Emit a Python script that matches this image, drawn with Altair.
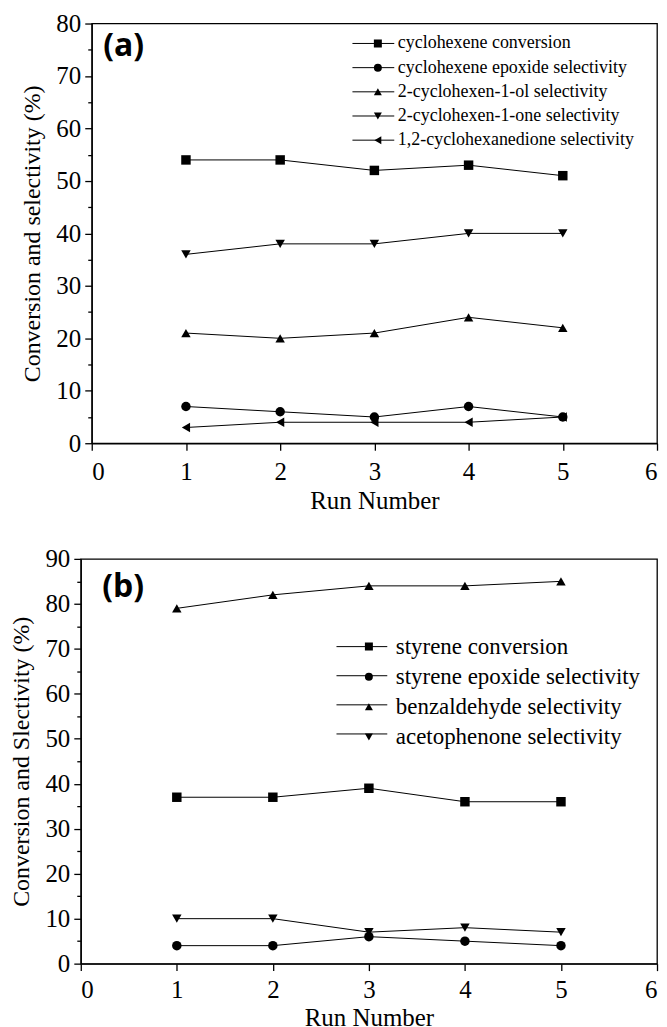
import altair as alt
import pandas as pd

runs = [1, 2, 3, 4, 5]

a_names = ["cyclohexene conversion", "cyclohexene epoxide selectivity",
           "2-cyclohexen-1-ol selectivity", "2-cyclohexen-1-one selectivity",
           "1,2-cyclohexanedione selectivity"]
a_conv = [54, 54, 52, 53, 51]
a_epox = [7, 6, 5, 7, 5]
a_ol = [21, 20, 21, 24, 22]
a_one = [36, 38, 38, 40, 40]
a_dione = [3, 4, 4, 4, 5]
a_shapes = ["square", "circle", "triangle-up", "triangle-down", "triangle-left"]

b_names = ["styrene conversion", "styrene epoxide selectivity",
           "benzaldehyde selectivity", "acetophenone selectivity"]
b_conv = [37, 37, 39, 36, 36]
b_epox = [4, 4, 6, 5, 4]
b_benz = [79, 82, 84, 84, 85]
b_aceto = [10, 10, 7, 8, 7]
b_shapes = ["square", "circle", "triangle-up", "triangle-down"]

x_ticks = [0, 1, 2, 3, 4, 5, 6]

SERIF = "Liberation Serif"


def long_df(names, series):
    rows = []
    for name, vals in zip(names, series):
        for r, v in zip(runs, vals):
            rows.append({"run": r, "value": v, "series": name, "series2": name})
    return pd.DataFrame(rows)


def panel(df, names, shapes, ymax, ytitle, tag, w, h, leg):
    n = len(names)
    xenc = alt.X("run:Q", scale=alt.Scale(domain=[0, 6], nice=False, zero=False),
                 axis=alt.Axis(values=x_ticks, format="d", title="Run Number",
                               tickSize=7, labelPadding=leg["xlp"], titlePadding=leg["xtp"],
                               titleFontSize=25))
    yenc = alt.Y("value:Q", scale=alt.Scale(domain=[0, ymax], nice=False),
                 axis=alt.Axis(values=list(range(0, ymax + 1, 5)),
                               labelExpr="datum.value % 10 == 0 ? datum.label : ''",
                               tickSize={"condition": {"test": "datum.value % 10 == 0", "value": 7}, "value": 4},
                               labelPadding=4, titlePadding=11, title=ytitle))
    lines = alt.Chart(df).mark_line(strokeWidth=1).encode(
        x=xenc, y=yenc,
        color=alt.Color("series:N", sort=names,
                        scale=alt.Scale(domain=names, range=["black"] * n),
                        legend=alt.Legend(orient="none", legendX=leg["x"], legendY=leg["y"],
                                          title=None, symbolType="stroke",
                                          symbolSize=leg["L"] ** 2, symbolStrokeWidth=1,
                                          clipHeight=leg["ch"], rowPadding=leg["rp"],
                                          labelExpr="''", labelOffset=0)),
        order="run:Q",
    )
    ms = 8.0
    points = alt.Chart(df).mark_point(filled=True, opacity=1, color="black", size=90).encode(
        x=xenc, y=yenc,
        shape=alt.Shape("series2:N", sort=names,
                        scale=alt.Scale(domain=names, range=shapes),
                        legend=alt.Legend(orient="none",
                                          legendX=leg["x"] + leg["L"] / 2 - ms / 2,
                                          legendY=leg["y"],
                                          title=None, symbolSize=ms * ms,
                                          symbolFillColor="black", symbolStrokeWidth=0,
                                          clipHeight=leg["ch"], rowPadding=leg["rp"],
                                          labelFont=SERIF, labelFontSize=leg["fs"],
                                          labelColor="black", labelLimit=0,
                                          labelOffset=leg["L"] / 2 - ms / 2 + leg["gap"])),
    )
    tag_text = alt.Chart(pd.DataFrame({"t": [tag]})).mark_text(
        font="Open Sans", fontWeight="bold", fontSize=32, align="left", baseline="top",
        color="black",
    ).encode(text="t:N", x=alt.value(leg["tx"]), y=alt.value(leg["ty"]))
    return alt.layer(lines, points, tag_text).resolve_scale(
        color="independent", shape="independent").properties(width=w, height=h)


def spacer():
    return alt.Chart(pd.DataFrame({"v": [0]})).mark_point(opacity=0, size=1).encode(
        x=alt.value(0.5), y=alt.value(0.5)
    ).properties(width=1, height=1, view=alt.ViewBackground(stroke="transparent"))


pa = panel(long_df(a_names, [a_conv, a_epox, a_ol, a_one, a_dione]), a_names, a_shapes,
           80, "Conversion and selectivity (%)", "(a)", 567, 421,
           {"x": 261, "y": 11, "L": 42, "ch": 18, "rp": 6.25, "fs": 18, "gap": -6,
            "tx": 11.5, "ty": 8, "xlp": 9, "xtp": 4})
pb = panel(long_df(b_names, [b_conv, b_epox, b_benz, b_aceto]), b_names, b_shapes,
           90, "Conversion and Slectivity (%)", "(b)", 578, 406,
           {"x": 256, "y": 77, "L": 51, "ch": 22, "rp": 7.2, "fs": 23, "gap": -6,
            "tx": 21.5, "ty": 13, "xlp": 7, "xtp": 3})

row_a = alt.hconcat(spacer(), pa, spacing=11).resolve_scale(color="independent", shape="independent")
row_b = alt.hconcat(spacer(), pb, spacing=0).resolve_scale(color="independent", shape="independent")

chart = alt.vconcat(row_a, row_b, spacing=32).resolve_scale(
    color="independent", shape="independent"
).configure(
    padding={"left": -2, "top": 1, "right": 0, "bottom": 0}
).configure_view(stroke="black", strokeWidth=1.3).configure_axis(
    grid=False, domainColor="black", domainWidth=1.3, tickColor="black", tickWidth=1.3,
    labelColor="black", titleColor="black", labelFont=SERIF, labelFontSize=25,
    titleFont=SERIF, titleFontSize=24, titleFontWeight="normal",
).configure_legend(symbolStrokeColor="black")

chart.save("out.html", embed_options={"renderer": "svg", "actions": False})
